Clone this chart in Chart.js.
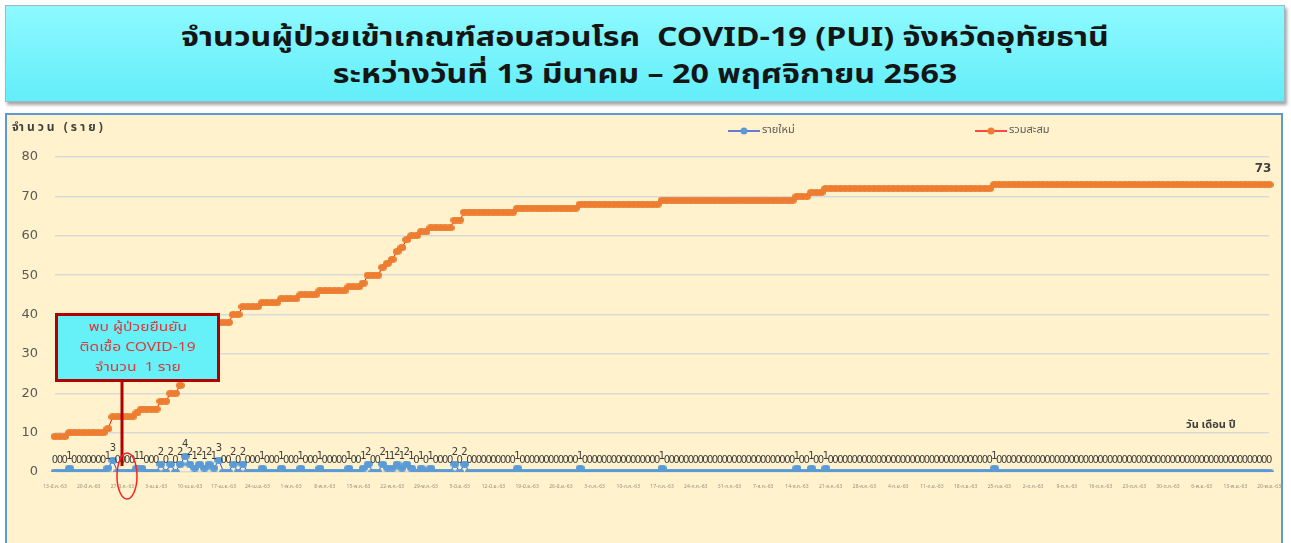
<!DOCTYPE html>
<html>
<head>
<meta charset="utf-8">
<script src="https://cdn.jsdelivr.net/npm/chart.js@4.4.0/dist/chart.umd.min.js"></script>
<style>
  html, body { margin:0; padding:0; background:#ffffff; width:1291px; height:543px; overflow:hidden; }
  body { position:relative; font-family: Tahoma, "Noto Sans Thai", "Noto Sans", "DejaVu Sans", sans-serif; }
  #titleBox { position:absolute; left:5px; top:5px; width:1278px; height:95px;
    background:linear-gradient(#8ef9ff, #62eef9); border:1px solid #9fb7c0;
    box-shadow:2px 3px 3px rgba(0,0,0,0.35); text-align:center; }
  #titleBox div { font-weight:bold; font-size:26px; color:#151515; line-height:37px;
    transform:scaleX(1.24); transform-origin:center; }
  #frame { position:absolute; left:5px; top:113px; width:1278px; height:440px;
    background:#FFF2CC; border:2px solid #5B9BD5; box-sizing:border-box; }
  #chartWrap { position:absolute; left:5px; top:113px; width:1280px; height:430px; }
  #note { position:absolute; left:55px; top:313px; width:159px; height:62px;
    background:#66F0F8; border:3px solid #B00000; text-align:center;
    color:#E03838; font-size:12px; line-height:20px; padding-top:1px; }
  #note span { display:inline-block; transform:scaleX(1.3); }
  #overlay { position:absolute; left:0; top:0; width:1291px; height:543px; pointer-events:none; }
  .lbl { position:absolute; font-weight:bold; font-size:11px; color:#404040; white-space:nowrap; }
</style>
</head>
<body>
<div id="titleBox">
  <div style="margin-top:14px">จำนวนผู้ป่วยเข้าเกณฑ์สอบสวนโรค&nbsp; COVID-19 (PUI) จังหวัดอุทัยธานี</div>
  <div>ระหว่างวันที่ 13 มีนาคม – 20 พฤศจิกายน 2563</div>
</div>
<div id="frame"></div>
<div id="chartWrap"><canvas id="c" width="1280" height="430"></canvas></div>
<div class="lbl" style="left:12px; top:118px; font-size:12px; letter-spacing:3px;">จำนวน (ราย)</div>
<div class="lbl" style="left:1186px; top:416px;">วัน เดือน ปี</div>
<svg id="overlay" width="1291" height="543">
  <line x1="122" y1="381" x2="122" y2="466" stroke="#B00000" stroke-width="3"/>
  <ellipse cx="127" cy="476" rx="10" ry="23" fill="none" stroke="#FF2020" stroke-width="1.5"/>
</svg>
<div id="note"><span>พบ ผู้ป่วยยืนยัน</span><br><span>ติดเชื้อ COVID-19</span><br><span>จำนวน&nbsp; 1 ราย</span></div>

<script>
// ---- data ----
const thaiMonths = ["ม.ค.","ก.พ.","มี.ค.","เม.ย.","พ.ค.","มิ.ย.","ก.ค.","ส.ค.","ก.ย.","ต.ค.","พ.ย.","ธ.ค."];
const categories = [];
for (let d = new Date(2020, 2, 13); d <= new Date(2020, 10, 20); d.setDate(d.getDate() + 1)) {
  categories.push(d.getDate() + "-" + thaiMonths[d.getMonth()] + "-63");
}
const seriesNames = ["รายใหม่", "รวมสะสม"];

const newCases = [
  0,0,0,1,0,0,0,0,0,0,
  0,1,3,0,0,0,0,1,1,0,
  0,0,2,0,2,0,2,4,2,1,
  2,1,2,1,3,0,0,2,0,2,
  0,0,0,1,0,0,0,1,0,0,
  0,1,0,0,0,1,0,0,0,0,
  0,1,0,0,1,2,0,0,2,1,
  1,2,1,2,1,0,1,0,1,0,
  0,0,0,2,0,2,0,0,0,0,
  0,0,0,0,0,0,1,0,0,0,
  0,0,0,0,0,0,0,0,0,1,
  0,0,0,0,0,0,0,0,0,0,
  0,0,0,0,0,0,1,0,0,0,
  0,0,0,0,0,0,0,0,0,0,
  0,0,0,0,0,0,0,0,0,0,
  0,0,0,0,1,0,0,1,0,0,
  1,0,0,0,0,0,0,0,0,0,
  0,0,0,0,0,0,0,0,0,0,
  0,0,0,0,0,0,0,0,0,0,
  0,0,0,0,0,1,0,0,0,0,
  0,0,0,0,0,0,0,0,0,0,
  0,0,0,0,0,0,0,0,0,0,
  0,0,0,0,0,0,0,0,0,0,
  0,0,0,0,0,0,0,0,0,0,
  0,0,0,0,0,0,0,0,0,0,
  0,0,0
];

const cumulative = [
  9,9,9,10,10,10,10,10,10,10,
  10,11,14,14,14,14,14,15,16,16,
  16,16,18,18,20,20,22,26,28,29,
  31,32,34,35,38,38,38,40,40,42,
  42,42,42,43,43,43,43,44,44,44,
  44,45,45,45,45,46,46,46,46,46,
  46,47,47,47,48,50,50,50,52,53,
  54,56,57,59,60,60,61,61,62,62,
  62,62,62,64,64,66,66,66,66,66,
  66,66,66,66,66,66,67,67,67,67,
  67,67,67,67,67,67,67,67,67,68,
  68,68,68,68,68,68,68,68,68,68,
  68,68,68,68,68,68,69,69,69,69,
  69,69,69,69,69,69,69,69,69,69,
  69,69,69,69,69,69,69,69,69,69,
  69,69,69,69,70,70,70,71,71,71,
  72,72,72,72,72,72,72,72,72,72,
  72,72,72,72,72,72,72,72,72,72,
  72,72,72,72,72,72,72,72,72,72,
  72,72,72,72,72,73,73,73,73,73,
  73,73,73,73,73,73,73,73,73,73,
  73,73,73,73,73,73,73,73,73,73,
  73,73,73,73,73,73,73,73,73,73,
  73,73,73,73,73,73,73,73,73,73,
  73,73,73,73,73,73,73,73,73,73,
  73,73,73
];
const yTicks = [0,10,20,30,40,50,60,70,80];

// horizontally stretched marker images
function ovalMarker(color, w, h) {
  const cv = document.createElement("canvas");
  cv.width = w; cv.height = h;
  const g = cv.getContext("2d");
  g.fillStyle = color;
  g.beginPath(); g.ellipse(w / 2, h / 2, w / 2, h / 2, 0, 0, Math.PI * 2); g.fill();
  return cv;
}
const blueMarker = ovalMarker("#5B9BD5", 9, 7);
const orangeMarker = ovalMarker("#ED7D31", 9, 7);

// ---- custom drawing ----
const extras = {
  id: "extras",
  afterDatasetsDraw(chart) {
    const ctx = chart.ctx;
    ctx.save();
    const m0 = chart.getDatasetMeta(0);
    ctx.font = "10px 'DejaVu Sans', sans-serif";
    ctx.fillStyle = "#3c3c3c";
    ctx.textAlign = "center";
    ctx.textBaseline = "alphabetic";
    m0.data.forEach((p, i) => {
      ctx.fillText(String(newCases[i]), p.x, p.y - 9);
    });
    const m1 = chart.getDatasetMeta(1);
    const last = m1.data[m1.data.length - 1];
    ctx.font = "bold 12px 'DejaVu Sans', sans-serif";
    ctx.fillStyle = "#404040";
    ctx.fillText(String(cumulative[cumulative.length - 1]), last.x - 6, last.y - 13);
    const legend = [
      {x: 723, line: "#3355CC", dot: "#5B9BD5", text: seriesNames[0]},
      {x: 970, line: "#FF1010", dot: "#ED7D31", text: seriesNames[1]}
    ];
    legend.forEach(l => {
      const y = 18;
      ctx.strokeStyle = l.line; ctx.lineWidth = 1.5;
      ctx.beginPath(); ctx.moveTo(l.x, y); ctx.lineTo(l.x + 32, y); ctx.stroke();
      ctx.fillStyle = l.dot;
      ctx.beginPath(); ctx.arc(l.x + 16, y, 3.5, 0, Math.PI * 2); ctx.fill();
      ctx.font = "11px Tahoma, 'Noto Sans Thai', 'Noto Sans', sans-serif";
      ctx.fillStyle = "#595959";
      ctx.textAlign = "left"; ctx.textBaseline = "middle";
      ctx.fillText(l.text, l.x + 34, y);
    });
    ctx.restore();
  }
};

new Chart(document.getElementById("c"), {
  type: "line",
  data: {
    labels: categories,
    datasets: [
      { label: seriesNames[0], data: newCases, borderColor: "#3050E0", borderWidth: 1,
        pointStyle: blueMarker, pointRadius: 4, tension: 0 },
      { label: seriesNames[1], data: cumulative, borderColor: "#FF0000", borderWidth: 1,
        pointStyle: orangeMarker, pointRadius: 4, tension: 0 }
    ]
  },
  options: {
    responsive: false,
    animation: false,
    devicePixelRatio: 1,
    layout: { padding: { left: 5, top: 44, right: 12, bottom: 0 } },
    plugins: { legend: { display: false }, tooltip: { enabled: false } },
    scales: {
      x: {
        offset: false,
        grid: { display: false },
        border: { display: false },
        ticks: {
          autoSkip: false, maxRotation: 0, minRotation: 0, padding: 4,
          font: { size: 5, family: "Tahoma, 'Noto Sans Thai', sans-serif" }, color: "#9a8f80",
          callback: (v, i) => (i % 7 === 0 ? categories[i] : "")
        },
        afterFit: (s) => { s.height = 71; }
      },
      y: {
        min: 0, max: 80,
        afterBuildTicks: (s) => { s.ticks = yTicks.map(v => ({ value: v })); },
        grid: { color: "#D9D9D9", lineWidth: 1.5, drawTicks: false },
        border: { display: false },
        ticks: { padding: 17, color: "#595959", font: { size: 13, family: "'DejaVu Sans', Verdana, sans-serif" } },
        afterFit: (s) => { s.width = 45; }
      }
    }
  },
  plugins: [extras]
});
</script>
</body>
</html>
